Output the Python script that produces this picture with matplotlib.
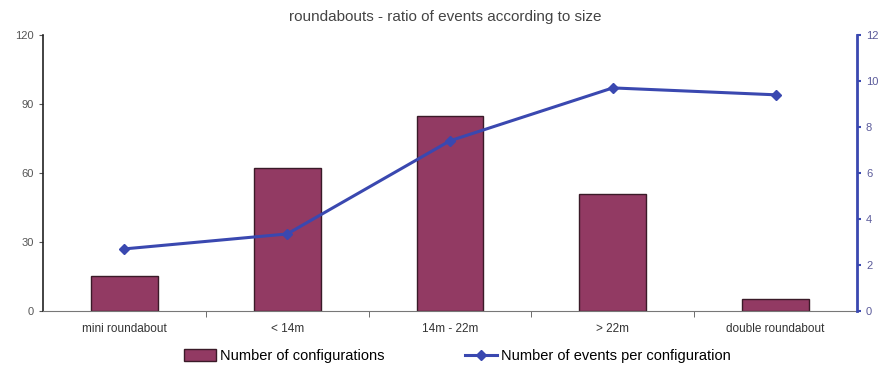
import numpy as np
import matplotlib.pyplot as plt

plt.rcParams['font.family'] = ['Liberation Sans', 'DejaVu Sans']

categories = ['mini roundabout', '< 14m', '14m - 22m', '> 22m', 'double roundabout']
configurations = [15, 62, 85, 51, 5]
events_per_config = [2.7, 3.35, 7.4, 9.7, 9.4]

bar_color = '#923a63'
line_color = '#3a48b0'

fig = plt.figure(figsize=(8.95, 3.67), dpi=100)
ax = fig.add_axes([0.048, 0.1526, 0.9095, 0.752])
ax2 = ax.twinx()

x = np.arange(len(categories))
ax.bar(x, configurations, width=0.41, color=bar_color, edgecolor='#3a1a28',
       linewidth=1, label='Number of configurations', zorder=2)
ax2.plot(x, events_per_config, '-D', color=line_color, linewidth=2.2,
         markersize=5, label='Number of events per configuration', zorder=3)

ax.set_xlim(-0.5, len(categories) - 0.5)
ax.set_ylim(0, 120)
ax2.set_ylim(0, 12)
ax.set_yticks([0, 30, 60, 90, 120])
ax2.set_yticks(range(0, 13, 2))

# category labels sit between the boundary ticks
ax.set_xticks(x)
ax.set_xticklabels(categories, fontsize=8.5, color='#333333')
ax.tick_params(axis='x', length=0, pad=9)
ax.set_xticks(np.arange(0.5, len(categories) - 0.5), minor=True)
ax.tick_params(axis='x', which='minor', length=4, color='#555555')

ax.tick_params(axis='y', labelsize=8, colors='#555555', length=3)
ax2.tick_params(axis='y', labelsize=8, labelcolor='#5a5a9a', color=line_color,
                length=3, width=1.5)

for a in (ax, ax2):
    a.spines['top'].set_visible(False)
ax.spines['right'].set_visible(False)
ax2.spines['left'].set_visible(False)
ax2.spines['bottom'].set_visible(False)
ax.spines['left'].set_color('#222222')
ax.spines['left'].set_linewidth(1.2)
ax.spines['bottom'].set_color('#777777')
ax2.spines['right'].set_color(line_color)
ax2.spines['right'].set_linewidth(2)

fig.text(0.497, 0.953, 'roundabouts - ratio of events according to size',
         fontsize=11, color='#444444', ha='center', va='center')

h1, l1 = ax.get_legend_handles_labels()
h2, l2 = ax2.get_legend_handles_labels()
fig.legend(h1 + h2, l1 + l2, loc='center', ncol=2, frameon=False,
           fontsize=10.5, bbox_to_anchor=(0.511, 0.03), columnspacing=5.5,
           handlelength=2.2, handleheight=0.8, handletextpad=0.3)

fig.savefig('out.png', dpi=100)
